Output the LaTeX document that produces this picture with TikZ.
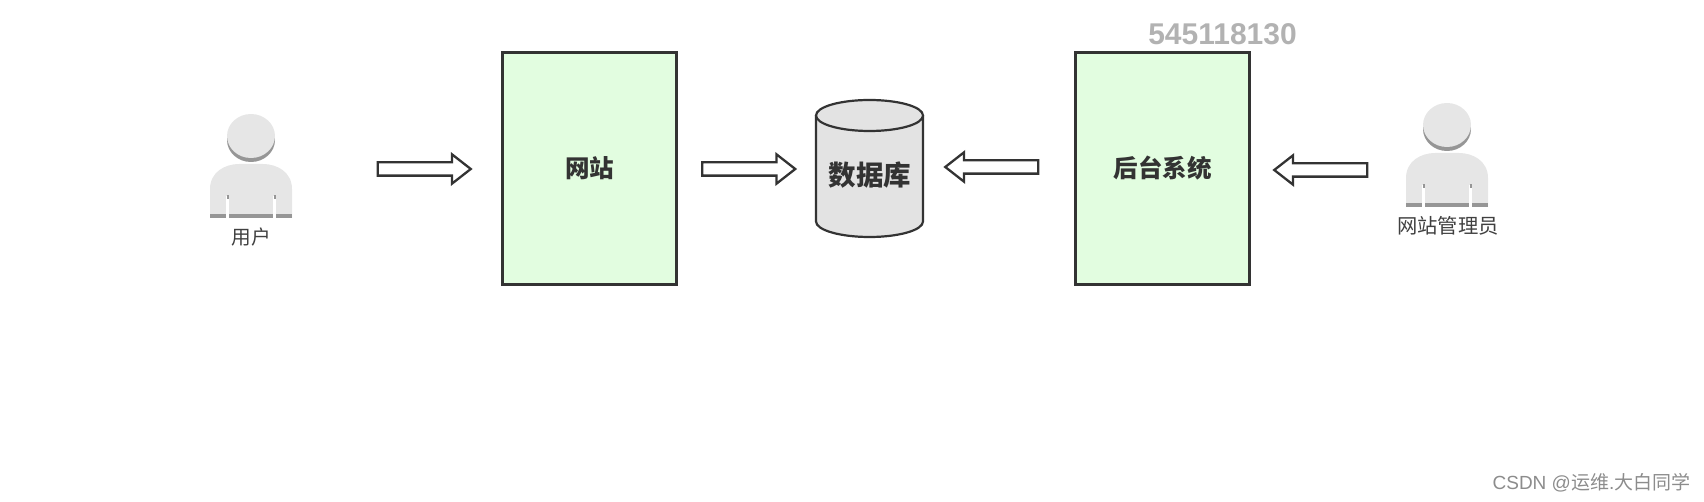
\documentclass[tikz,border=0pt]{standalone}
\usepackage{fontspec}
\usetikzlibrary{shapes.arrows}
\newfontfamily\cjk{Noto Sans CJK SC}
\setmainfont{Liberation Sans}
\definecolor{boxfill}{HTML}{E2FDE0}
\definecolor{ink}{HTML}{333333}
\definecolor{dbfill}{HTML}{E3E3E3}
\definecolor{persona}{HTML}{E6E6E6}
\definecolor{personb}{HTML}{969696}
\tikzset{
  sysbox/.style={draw=ink,line width=2.5pt,fill=boxfill,inner sep=0pt,outer sep=0pt,minimum width=174pt,minimum height=232pt,font=\cjk\bfseries\fontsize{24.5}{28}\selectfont,text=black!80},
  blockarrow/.style={draw=ink,line width=2.3pt,fill=white,single arrow,inner sep=0pt,inner ysep=5.5pt,outer sep=0pt,
    minimum height=93pt,minimum width=27pt,single arrow head extend=8pt,single arrow tip angle=76},
  peoplelabel/.style={font=\cjk\fontsize{19.7}{22}\selectfont,text=black!75,inner sep=0pt},
  person/.pic={
    \fill[persona] (-41,55) -- (-41,26) .. controls (-41,9) and (-26,1) .. (-12,1) -- (12,1) .. controls (26,1) and (41,9) .. (41,26) -- (41,55) -- cycle;
    \fill[personb] (-41,51) rectangle (41,55);
    \fill[white] (-25,33) rectangle (-22,55.5);
    \fill[white] (22,33) rectangle (25,55.5);
    \fill[personb] (-24.5,32) rectangle (-22.5,36);
    \fill[personb] (22.5,32) rectangle (24.5,36);
    \fill[personb] (0,-23) ellipse [x radius=24,y radius=22];
    \fill[persona] (0,-27) ellipse [x radius=24,y radius=22];
  }
}
\begin{document}
\begin{tikzpicture}[x=1pt,y=-1pt]
\useasboundingbox (0,0) rectangle (1704,502);
\node[sysbox] (site) at (589.5,168.5) {网站};
\node[sysbox] (admin) at (1162.5,168.5) {后台系统};
% database cylinder
\path[draw=ink,line width=2.2pt,fill=dbfill] (816,115.5) -- (816,221.5)
  arc[start angle=180,end angle=360,x radius=53.5,y radius=-15.5]
  -- (923,115.5);
\path[draw=ink,line width=2.2pt,fill=dbfill] (869.5,115.5) ellipse [x radius=53.5,y radius=15.5];
\node[font=\cjk\bfseries\fontsize{27.5}{32}\selectfont,text=black!80,inner sep=0pt] (db) at (870,175) {数据库};
% block arrows
\node[blockarrow] (a1) at (420,169) {};
\node[blockarrow] (a2) at (744.5,169) {};
\node[blockarrow,shape border rotate=180] (a3) at (996,167) {};
\node[blockarrow,shape border rotate=180] (a4) at (1325,170) {};
% people
\pic at (251,163) {person};
\pic at (1447,152) {person};
\node[peoplelabel] (user) at (251,237) {用户};
\node[peoplelabel,font=\cjk\fontsize{20.3}{22}\selectfont] (manager) at (1448,226) {网站管理员};
% annotations
\node[font=\bfseries\fontsize{30}{32}\selectfont,text=black!30,inner sep=0pt] (num) at (1222.5,34.5) {545118130};
\node[font=\fontsize{19}{22}\selectfont,text=black!45,inner sep=0pt,anchor=east] (mark) at (1690.5,483) {CSDN @{\cjk 运维}.{\cjk 大白同学}};
\end{tikzpicture}
\end{document}
